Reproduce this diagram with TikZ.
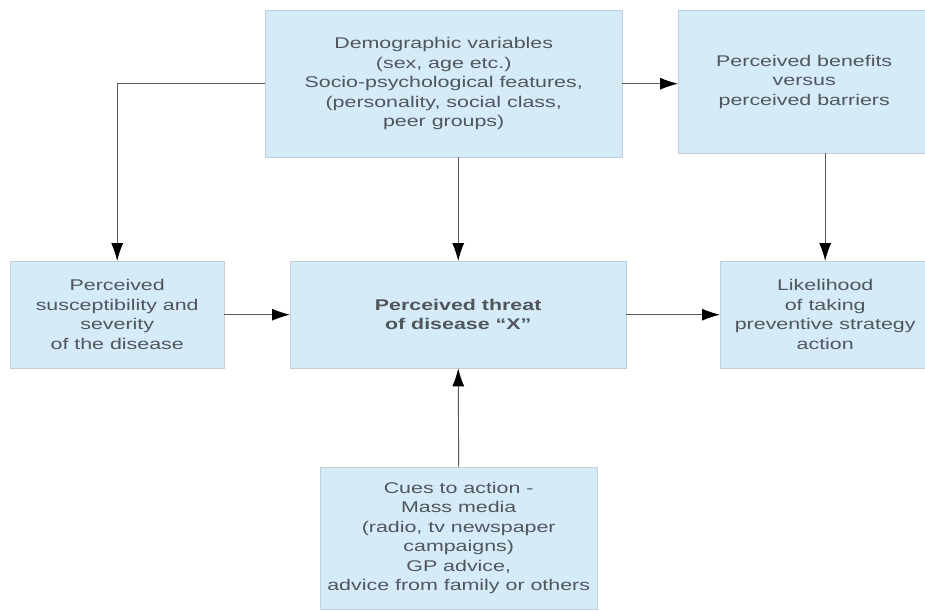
\documentclass[tikz,border=0pt]{standalone}
\usepackage{fontspec}
\setmainfont{Liberation Sans}[FakeStretch=1.38]
\usetikzlibrary{arrows.meta}

\definecolor{boxfill}{HTML}{D6EBF8}
\definecolor{boxline}{HTML}{C3CFD8}
\definecolor{boxtext}{HTML}{50565C}
\definecolor{linegray}{HTML}{5A5A5A}

\tikzset{
    box/.style={draw=boxline, fill=boxfill, text=boxtext, align=center,
        anchor=north west, inner sep=0pt,
        font=\fontsize{15.5}{19.5}\selectfont},
    link/.style={draw=linegray, line width=0.9pt,
        -{Latex[length=18pt,width=12pt,color=black]}}
}

\begin{document}
\begin{tikzpicture}[x=1pt, y=-1pt]
    % page size = reference size
    \useasboundingbox (0,0) rectangle (925,611);

    % top row
    \node [box, minimum width=357, minimum height=147] (Demo) at (265,10)
        {Demographic variables\\(sex, age etc.)\\Socio-psychological features,\\(personality, social class,\\peer groups)};
    \node [box, minimum width=252, minimum height=143] (Bene) at (678,10)
        {Perceived benefits\\versus\\perceived barriers};

    % middle row
    \node [box, minimum width=214, minimum height=107] (Susc) at (10,261)
        {Perceived\\susceptibility and\\severity\\of the disease};
    \node [box, minimum width=336, minimum height=107] (Threat) at (290,261)
        {\bfseries Perceived threat\\\bfseries of disease ``X''};
    \node [box, minimum width=210, minimum height=107] (Likely) at (720,261)
        {Likelihood\\of taking\\preventive strategy\\action};

    % bottom
    \node [box, minimum width=277, minimum height=142] (Cues) at (320,467)
        {Cues to action -\\Mass media\\(radio, tv newspaper\\campaigns)\\GP advice,\\advice from family or others};

    % arrows
    \draw [link] (Demo.west) -| (Susc.north);
    \draw [link] (Demo.east) -- (Demo.east -| Bene.west);
    \draw [link] (Threat.north |- Demo.south) -- (Threat.north);
    \draw [link] (Likely.north |- Bene.south) -- (Likely.north);
    \draw [link] (Susc.east) -- (Susc.east -| Threat.west);
    \draw [link] (Threat.east) -- (Threat.east -| Likely.west);
    \draw [link] (Cues.north) -- (Threat.south);
\end{tikzpicture}
\end{document}
